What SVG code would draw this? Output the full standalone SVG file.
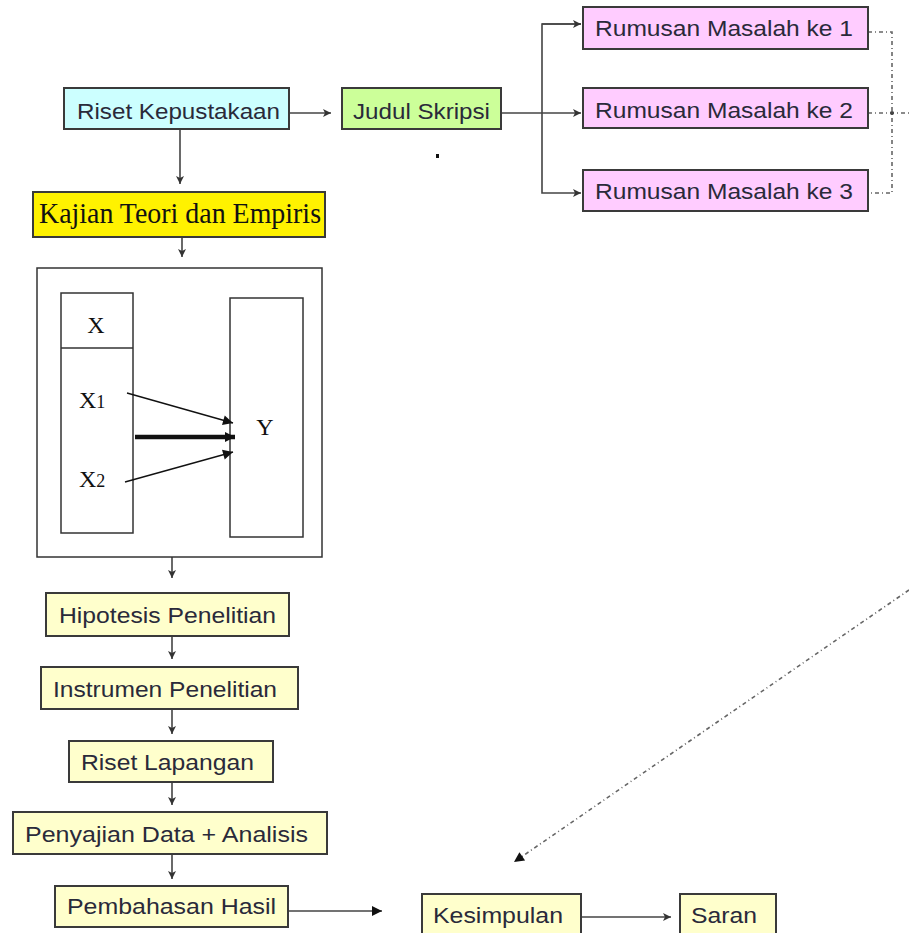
<svg xmlns="http://www.w3.org/2000/svg" width="909" height="933" viewBox="0 0 909 933">
<style>
.box{stroke:#3a3a3a;stroke-width:2}
.t{font-family:"Liberation Sans",Arial,sans-serif;font-size:21.5px;fill:#2a2a3a}
.s{font-family:"Liberation Serif","Times New Roman",serif;fill:#111}
.c{fill:none;stroke:#444;stroke-width:1.6}
.d{fill:none;stroke:#666;stroke-width:1.6;stroke-dasharray:4 3 1 3}
.in{fill:#fff;stroke:#333;stroke-width:1.5}
</style>
<defs>
<marker id="a" markerWidth="10" markerHeight="10" refX="9" refY="5" orient="auto" markerUnits="userSpaceOnUse">
<path d="M1,1 L9,5 L1,9 L3,5 z" fill="#333"/>
</marker>
<marker id="b" markerWidth="12" markerHeight="12" refX="11" refY="6" orient="auto" markerUnits="userSpaceOnUse">
<path d="M1,1 L11,6 L1,11 z" fill="#111"/>
</marker>
</defs>
<rect width="909" height="933" fill="#fff"/>

<g id="connectors">
<line class="c" x1="289" y1="113" x2="331" y2="113" marker-end="url(#a)"/>
<line class="c" x1="180" y1="129" x2="180" y2="184" marker-end="url(#a)"/>
<line class="c" x1="501" y1="113" x2="581" y2="113" marker-end="url(#a)"/>
<path class="c" d="M581,24 H542 V193 H581" marker-end="url(#a)"/>
<line class="c" x1="542" y1="24" x2="581" y2="24" marker-end="url(#a)"/>
<line class="c" x1="182" y1="237" x2="182" y2="257" marker-end="url(#a)"/>
<line class="c" x1="172" y1="557" x2="172" y2="578" marker-end="url(#a)"/>
<line class="c" x1="172" y1="636" x2="172" y2="659" marker-end="url(#a)"/>
<line class="c" x1="172" y1="709" x2="172" y2="734" marker-end="url(#a)"/>
<line class="c" x1="172" y1="782" x2="172" y2="805" marker-end="url(#a)"/>
<line class="c" x1="172" y1="854" x2="172" y2="879" marker-end="url(#a)"/>
<line class="c" x1="287" y1="911" x2="382" y2="911" marker-end="url(#b)"/>
<line class="c" x1="582" y1="917" x2="671" y2="917" marker-end="url(#a)"/>
<path class="d" d="M868,32 H892 V193 H868"/>
<line class="d" x1="868" y1="113" x2="909" y2="113"/>
<circle cx="892" cy="113" r="2" fill="#444"/>
<line class="d" x1="909" y1="590" x2="514" y2="862" marker-end="url(#b)"/>
<rect x="436" y="154" width="3" height="4" fill="#111"/>
</g>

<g id="riset-kepustakaan">
<rect class="box" x="64" y="88" width="225" height="41" fill="#ccffff"/>
<text class="t" x="77" y="119" textLength="203" lengthAdjust="spacingAndGlyphs">Riset Kepustakaan</text>
</g>
<g id="judul-skripsi">
<rect class="box" x="342" y="88" width="159" height="41" fill="#ccff99"/>
<text class="t" x="353" y="119" textLength="137" lengthAdjust="spacingAndGlyphs">Judul Skripsi</text>
</g>
<g id="rumusan-1">
<rect class="box" x="583" y="7" width="285" height="42" fill="#ffccff"/>
<text class="t" x="595" y="36" textLength="258" lengthAdjust="spacingAndGlyphs">Rumusan Masalah ke 1</text>
</g>
<g id="rumusan-2">
<rect class="box" x="583" y="88" width="285" height="40" fill="#ffccff"/>
<text class="t" x="595" y="118" textLength="258" lengthAdjust="spacingAndGlyphs">Rumusan Masalah ke 2</text>
</g>
<g id="rumusan-3">
<rect class="box" x="583" y="170" width="285" height="41" fill="#ffccff"/>
<text class="t" x="595" y="199" textLength="258" lengthAdjust="spacingAndGlyphs">Rumusan Masalah ke 3</text>
</g>
<g id="kajian">
<rect class="box" x="33" y="192" width="292" height="45" fill="#fff200"/>
<text class="s" x="39" y="223" font-size="29" textLength="282" lengthAdjust="spacingAndGlyphs">Kajian Teori dan Empiris</text>
</g>

<g id="model">
<rect class="in" x="37" y="268" width="285" height="289"/>
<rect class="in" x="61" y="293" width="72" height="240"/>
<line x1="61" y1="348" x2="133" y2="348" stroke="#333" stroke-width="1.5"/>
<rect class="in" x="230" y="298" width="73" height="239"/>
<text class="s" x="96" y="333" font-size="24" text-anchor="middle">X</text>
<text class="s" x="79" y="408" font-size="24">X<tspan font-size="18">1</tspan></text>
<text class="s" x="79" y="487" font-size="24">X<tspan font-size="18">2</tspan></text>
<text class="s" x="265" y="435" font-size="24" text-anchor="middle">Y</text>
<line x1="127" y1="393" x2="233" y2="423" stroke="#111" stroke-width="1.3" marker-end="url(#b)"/>
<line x1="135" y1="437" x2="235" y2="437" stroke="#111" stroke-width="4.5" marker-end="url(#b)"/>
<line x1="125" y1="482" x2="233" y2="452" stroke="#111" stroke-width="1.3" marker-end="url(#b)"/>
</g>

<g id="hipotesis">
<rect class="box" x="46" y="593" width="243" height="43" fill="#ffffcc"/>
<text class="t" x="59" y="623" textLength="217" lengthAdjust="spacingAndGlyphs">Hipotesis Penelitian</text>
</g>
<g id="instrumen">
<rect class="box" x="41" y="667" width="257" height="42" fill="#ffffcc"/>
<text class="t" x="53" y="697" textLength="224" lengthAdjust="spacingAndGlyphs">Instrumen Penelitian</text>
</g>
<g id="riset-lapangan">
<rect class="box" x="69" y="741" width="204" height="41" fill="#ffffcc"/>
<text class="t" x="81" y="770" textLength="173" lengthAdjust="spacingAndGlyphs">Riset Lapangan</text>
</g>
<g id="penyajian">
<rect class="box" x="13" y="812" width="314" height="42" fill="#ffffcc"/>
<text class="t" x="25" y="842" textLength="283" lengthAdjust="spacingAndGlyphs">Penyajian Data + Analisis</text>
</g>
<g id="pembahasan">
<rect class="box" x="55" y="886" width="233" height="41" fill="#ffffcc"/>
<text class="t" x="67" y="914" textLength="209" lengthAdjust="spacingAndGlyphs">Pembahasan Hasil</text>
</g>
<g id="kesimpulan">
<rect class="box" x="422" y="894" width="159" height="45" fill="#ffffcc"/>
<text class="t" x="433" y="923" textLength="130" lengthAdjust="spacingAndGlyphs">Kesimpulan</text>
</g>
<g id="saran">
<rect class="box" x="680" y="894" width="96" height="45" fill="#ffffcc"/>
<text class="t" x="691" y="923" textLength="66" lengthAdjust="spacingAndGlyphs">Saran</text>
</g>
</svg>
